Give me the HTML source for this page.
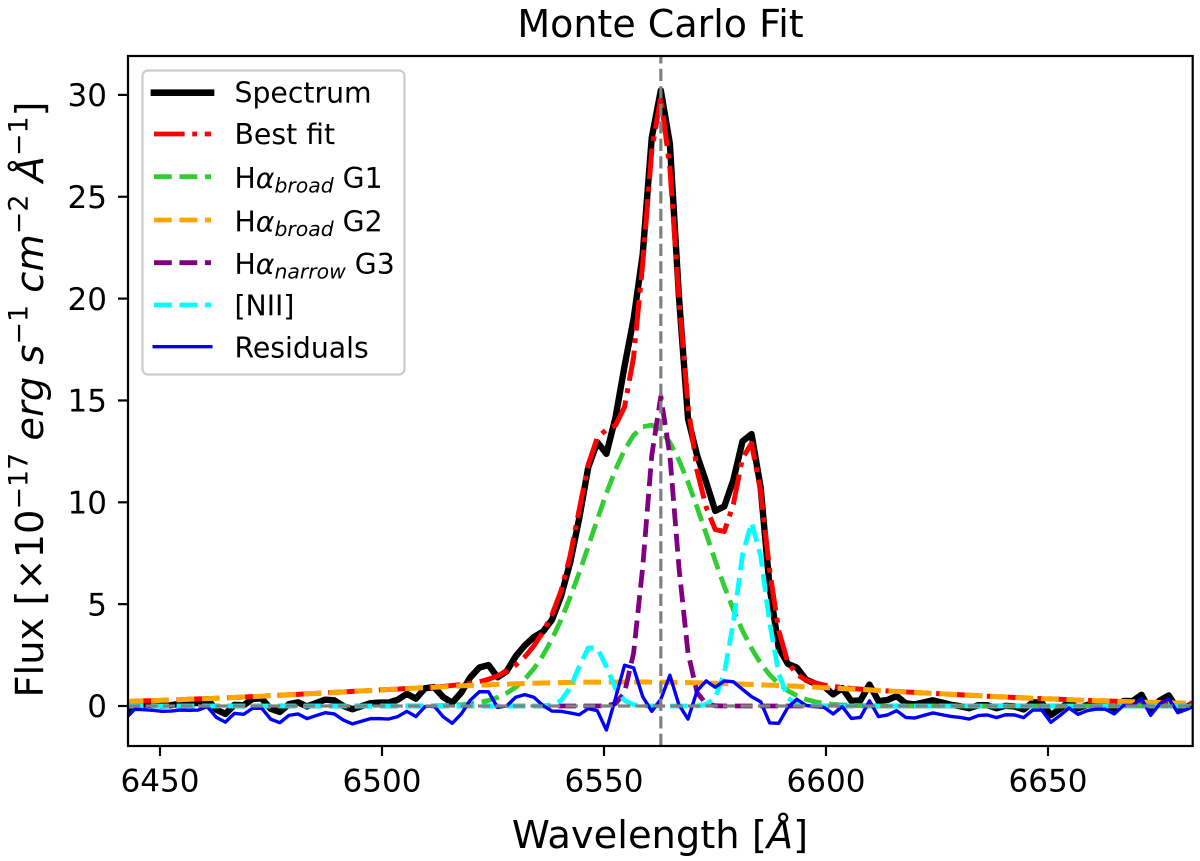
<!DOCTYPE html>
<html>
<head>
<meta charset="utf-8">
<title>Monte Carlo Fit</title>
<style>
html,body{margin:0;padding:0;background:#fff;width:1200px;height:861px;overflow:hidden}
svg{display:block}
text{font-family:"DejaVu Sans","Liberation Sans",sans-serif;fill:#000}
.it{font-style:italic}
</style>
</head>
<body>
<svg id="chart" xmlns="http://www.w3.org/2000/svg" width="1200" height="861" viewBox="0 0 1200 861">
  <defs><clipPath id="plot-clip"><rect x="128" y="56" width="1064.7" height="690"/></clipPath></defs>
  <rect x="0" y="0" width="1200" height="861" fill="#fff"/>
  <text x="660.5" y="37" font-size="38" text-anchor="middle">Monte Carlo Fit</text>
  <g id="series-layer" clip-path="url(#plot-clip)"></g>
  <g id="tick-layer"></g>
  <rect x="128" y="56" width="1064.7" height="690" fill="none" stroke="#000" stroke-width="2.2"/>
  <text x="660" y="848" font-size="38.4" text-anchor="middle">Wavelength [<tspan class="it">Å</tspan>]</text>
  <text transform="translate(43,399.5) rotate(-90)" x="0" y="0" font-size="38.4" text-anchor="middle">Flux [×10<tspan font-size="26.9" dy="-15.5">−17</tspan><tspan dy="15.5"> </tspan><tspan class="it">erg</tspan> <tspan class="it">s</tspan><tspan font-size="26.9" dy="-15.5">−1</tspan><tspan dy="15.5"> </tspan><tspan class="it">cm</tspan><tspan font-size="26.9" dy="-15.5">−2</tspan><tspan dy="15.5"> </tspan><tspan class="it">Å</tspan><tspan font-size="26.9" dy="-15.5">−1</tspan><tspan dy="15.5">]</tspan></text>
  <g>
    <rect x="142.5" y="70.5" width="262" height="304" rx="5.5" ry="5.5" fill="#fff" fill-opacity="0.8" stroke="#ccc" stroke-width="2.2"/>
    <g>
      <line x1="154" y1="92.7" x2="211" y2="92.7" stroke="#000" stroke-width="6.7" stroke-linecap="square"/>
      <text x="234.5" y="102.7" font-size="28.3">Spectrum</text>
    </g>
    <g>
      <line x1="154" y1="134" x2="211" y2="134" stroke="#f00" stroke-width="4.8" stroke-dasharray="30.6 7.65 4.8 7.65"/>
      <text x="234.5" y="144" font-size="28.3">Best fit</text>
    </g>
    <g>
      <line x1="154" y1="176.7" x2="211" y2="176.7" stroke="#32cd32" stroke-width="4.8" stroke-dasharray="17.8 7.65"/>
      <text x="234.5" y="188" font-size="28.3">H<tspan class="it">α</tspan><tspan class="it" font-size="20.4" dy="4.5">broad</tspan><tspan dy="-4.5"> G1</tspan></text>
    </g>
    <g>
      <line x1="154" y1="220" x2="211" y2="220" stroke="#ffa500" stroke-width="4.8" stroke-dasharray="17.8 7.65"/>
      <text x="234.5" y="231.5" font-size="28.3">H<tspan class="it">α</tspan><tspan class="it" font-size="20.4" dy="4.5">broad</tspan><tspan dy="-4.5"> G2</tspan></text>
    </g>
    <g>
      <line x1="154" y1="262.7" x2="211" y2="262.7" stroke="#800080" stroke-width="4.8" stroke-dasharray="17.8 7.65"/>
      <text x="234.5" y="274" font-size="28.3">H<tspan class="it">α</tspan><tspan class="it" font-size="20.4" dy="4.5">narrow</tspan><tspan dy="-4.5"> G3</tspan></text>
    </g>
    <g>
      <line x1="154" y1="305" x2="211" y2="305" stroke="#0ff" stroke-width="4.8" stroke-dasharray="17.8 7.65"/>
      <text x="234.5" y="315.5" font-size="28.3">[NII]</text>
    </g>
    <g>
      <line x1="152.5" y1="346.7" x2="212.5" y2="346.7" stroke="#00f" stroke-width="3.4"/>
      <text x="234.5" y="357.5" font-size="28.3">Residuals</text>
    </g>
  </g>
</svg>
<script>
const waveStart = 6442.26;
const waveStep = 2.043;
const restWavelength = 6562.8;
const xTickValues = [6450, 6500, 6550, 6600, 6650];
const yTickValues = [0, 5, 10, 15, 20, 25, 30];

const spectrum = [
-.39,.07,.07,.05,.02,.04,.11,.12,.15,.33,
-.18,-.39,.06,.03,.35,.37,-.14,-.29,.09,.18,
-.02,.15,.31,.28,0,-.16,-.01,.14,.17,.17,
.31,.60,.36,.87,.93,.44,.16,.66,1.41,1.89,
2.01,1.41,1.70,2.44,2.97,3.38,3.65,4.23,5.39,7.03,
9.20,11.72,12.95,12.38,14.15,16.68,19.0,22.16,27.9,30.22,
27.6,20.08,14.10,12.30,10.99,9.58,9.80,11.10,12.99,13.35,
10.75,5.82,2.85,2.07,1.88,1.30,1.10,.96,.57,.88,
.25,.27,1.05,.24,.30,.49,.13,.08,.18,.28,
.17,.06,-.01,-.11,.04,.04,-.11,.01,-.02,-.17,
.18,.16,-.45,-.14,.21,-.12,.05,.11,.09,-.16,
.25,.24,.55,-.28,.27,.52,-.18,-.02,.16];

const bestFit = [
.22,.23,.25,.26,.28,.29,.31,.33,.35,.36,
.38,.40,.42,.44,.46,.48,.51,.53,.55,.57,
.60,.62,.64,.67,.69,.72,.74,.76,.79,.81,
.83,.86,.88,.90,.93,.96,1.01,1.05,1.12,1.19,
1.31,1.48,1.70,2.01,2.41,2.95,3.62,4.48,5.65,7.37,
9.63,11.85,13.18,13.56,13.77,14.68,17.13,21.7,27.26,29.89,
26.4,20.03,14.74,11.55,9.76,8.66,8.57,9.91,12.17,12.89,
10.54,6.65,3.70,2.14,1.55,1.27,1.13,1.03,.96,.91,
.86,.83,.80,.76,.74,.72,.69,.67,.64,.62,
.60,.57,.55,.53,.51,.48,.46,.44,.42,.40,
.38,.36,.35,.33,.31,.29,.28,.26,.25,.23,
.22,.21,.19,.18,.17,.16,.15,.14,.13];

const broadG1 = [
0,0,0,0,0,0,0,0,0,0,
0,0,0,0,0,0,0,0,0,0,
0,0,0,0,0,0,0,0,0,0,
0,0,0,0,.01,.02,.04,.06,.11,.17,
.27,.42,.63,.92,1.31,1.83,2.48,3.28,4.23,5.33,
6.54,7.83,9.16,10.44,11.6,12.57,13.29,13.71,13.79,13.52,
12.94,12.07,10.99,9.75,8.45,7.13,5.87,4.72,3.7,2.83,
2.1,1.53,1.09,.75,.51,.33,.21,.13,.08,.05,
.03,.02,.01,0,0,0,0,0,0,0,
0,0,0,0,0,0,0,0,0,0,
0,0,0,0,0,0,0,0,0,0,
0,0,0,0,0,0,0,0,0];

const broadG2 = [
.22,.23,.25,.26,.28,.29,.31,.33,.35,.36,
.38,.40,.42,.44,.46,.48,.51,.53,.55,.57,
.60,.62,.64,.67,.69,.72,.74,.76,.79,.81,
.83,.86,.88,.90,.92,.94,.97,.99,1.01,1.02,
1.04,1.06,1.07,1.09,1.10,1.12,1.13,1.14,1.15,1.16,
1.16,1.17,1.17,1.18,1.18,1.18,1.18,1.18,1.17,1.17,
1.16,1.16,1.15,1.14,1.13,1.12,1.10,1.09,1.07,1.06,
1.04,1.02,1.01,.99,.97,.94,.92,.90,.88,.86,
.83,.81,.79,.76,.74,.72,.69,.67,.64,.62,
.60,.57,.55,.53,.51,.48,.46,.44,.42,.40,
.38,.36,.35,.33,.31,.29,.28,.26,.25,.23,
.22,.21,.19,.18,.17,.16,.15,.14,.13];

const narrowG3 = [
0,0,0,0,0,0,0,0,0,0,
0,0,0,0,0,0,0,0,0,0,
0,0,0,0,0,0,0,0,0,0,
0,0,0,0,0,0,0,0,0,0,
0,0,0,0,0,0,0,0,0,0,
0,0,0,.01,.11,.66,2.6,6.8,12.3,15.2,
12.3,6.8,2.6,.66,.11,.01,0,0,0,0,
0,0,0,0,0,0,0,0,0,0,
0,0,0,0,0,0,0,0,0,0,
0,0,0,0,0,0,0,0,0,0,
0,0,0,0,0,0,0,0,0,0,
0,0,0,0,0,0,0,0,0];

const nii = [
0,0,0,0,0,0,0,0,0,0,
0,0,0,0,0,0,0,0,0,0,
0,0,0,0,0,0,0,0,0,0,
0,0,0,0,0,0,0,0,0,0,
0,0,0,0,0,0,.01,.06,.27,.88,
1.93,2.85,2.85,1.93,.88,.27,.06,.01,0,0,
0,0,0,0,.07,.4,1.6,4.1,7.4,9,
7.4,4.1,1.6,.4,.07,0,0,0,0,0,
0,0,0,0,0,0,0,0,0,0,
0,0,0,0,0,0,0,0,0,0,
0,0,0,0,0,0,0,0,0,0,
0,0,0,0,0,0,0,0,0];

const residuals = [
-.61,-.16,-.18,-.21,-.26,-.25,-.20,-.21,-.20,-.03,
-.56,-.79,-.36,-.41,-.11,-.11,-.65,-.82,-.46,-.39,
-.62,-.47,-.33,-.39,-.69,-.88,-.75,-.62,-.62,-.64,
-.52,-.26,-.52,-.03,0,-.52,-.85,-.39,.29,.70,
.70,-.07,0,.43,.56,.43,.03,-.25,-.26,-.34,
-.43,-.13,-.23,-1.18,.38,2.0,1.87,.46,-.26,.33,
1.51,.05,-.64,.75,1.23,.92,1.23,1.19,.82,.46,
.21,-.83,-.85,-.07,.33,.03,-.03,-.07,-.39,-.03,
-.61,-.56,.25,-.52,-.44,-.23,-.56,-.59,-.46,-.34,
-.43,-.51,-.56,-.64,-.47,-.44,-.57,-.43,-.44,-.57,
-.20,-.20,-.80,-.47,-.10,-.41,-.23,-.15,-.16,-.39,
.03,.03,.36,-.46,.10,.36,-.33,-.16,.03];

const NS = 'http://www.w3.org/2000/svg';
function xScale(w) { return 160 + (w - 6450) * 4.44; }
function yScale(v) { return 706 - v * 20.37; }

const seriesLayer = document.getElementById('series-layer');
const tickLayer = document.getElementById('tick-layer');

function drawSeries(values, name, color, width, dash) {
  const line = document.createElementNS(NS, 'polyline');
  const pts = values.map(function (v, i) {
    return xScale(waveStart + i * waveStep).toFixed(2) + ',' + yScale(v).toFixed(2);
  }).join(' ');
  line.setAttribute('points', pts);
  line.setAttribute('fill', 'none');
  line.setAttribute('stroke', color);
  line.setAttribute('stroke-width', width);
  line.setAttribute('stroke-linejoin', 'round');
  if (dash) line.setAttribute('stroke-dasharray', dash);
  
  
  seriesLayer.appendChild(line);
}

drawSeries(spectrum, 'spectrum-line', '#000', 6.4, null);
drawSeries(bestFit, 'best-fit-line', '#f00', 5, '30.6 7.65 4.8 7.65');
drawSeries(broadG1, 'broad-g1-line', '#32cd32', 4.8, '17.8 7.65');
drawSeries(broadG2, 'broad-g2-line', '#ffa500', 5, '17.8 7.65');
drawSeries(narrowG3, 'narrow-g3-line', '#800080', 4.8, '17.8 7.65');
drawSeries(nii, 'nii-line', '#0ff', 4.8, '17.8 7.65');
drawSeries(residuals, 'residuals-line', '#00f', 3.4, null);

const zeroLine = document.createElementNS(NS, 'line');
zeroLine.setAttribute('x1', 128);
zeroLine.setAttribute('x2', 1193);
zeroLine.setAttribute('y1', yScale(0));
zeroLine.setAttribute('y2', yScale(0));
zeroLine.setAttribute('stroke', '#808080');
zeroLine.setAttribute('stroke-width', 3.2);
zeroLine.setAttribute('stroke-dasharray', '12.2 5.3');


seriesLayer.appendChild(zeroLine);

const restLine = document.createElementNS(NS, 'line');
restLine.setAttribute('x1', xScale(restWavelength));
restLine.setAttribute('x2', xScale(restWavelength));
restLine.setAttribute('y1', 746);
restLine.setAttribute('y2', 56);
restLine.setAttribute('stroke', '#808080');
restLine.setAttribute('stroke-width', 3.2);
restLine.setAttribute('stroke-dasharray', '12.2 5.3');


seriesLayer.appendChild(restLine);

xTickValues.forEach(function (t) {
  const x = xScale(t);
  const mark = document.createElementNS(NS, 'line');
  mark.setAttribute('x1', x);
  mark.setAttribute('x2', x);
  mark.setAttribute('y1', 746);
  mark.setAttribute('y2', 756);
  mark.setAttribute('stroke', '#000');
  mark.setAttribute('stroke-width', 2.2);
  
  
  tickLayer.appendChild(mark);
  const label = document.createElementNS(NS, 'text');
  label.setAttribute('x', x);
  label.setAttribute('y', 791.5);
  label.setAttribute('font-size', 31);
  label.setAttribute('text-anchor', 'middle');
  label.textContent = String(t);
  
  
  tickLayer.appendChild(label);
});

yTickValues.forEach(function (t) {
  const y = yScale(t);
  const mark = document.createElementNS(NS, 'line');
  mark.setAttribute('x1', 118);
  mark.setAttribute('x2', 128);
  mark.setAttribute('y1', y);
  mark.setAttribute('y2', y);
  mark.setAttribute('stroke', '#000');
  mark.setAttribute('stroke-width', 2.2);
  
  
  tickLayer.appendChild(mark);
  const label = document.createElementNS(NS, 'text');
  label.setAttribute('x', 107);
  label.setAttribute('y', y + 11.2);
  label.setAttribute('font-size', 31);
  label.setAttribute('text-anchor', 'end');
  label.textContent = String(t);
  
  
  tickLayer.appendChild(label);
});
</script>
</body>
</html>
